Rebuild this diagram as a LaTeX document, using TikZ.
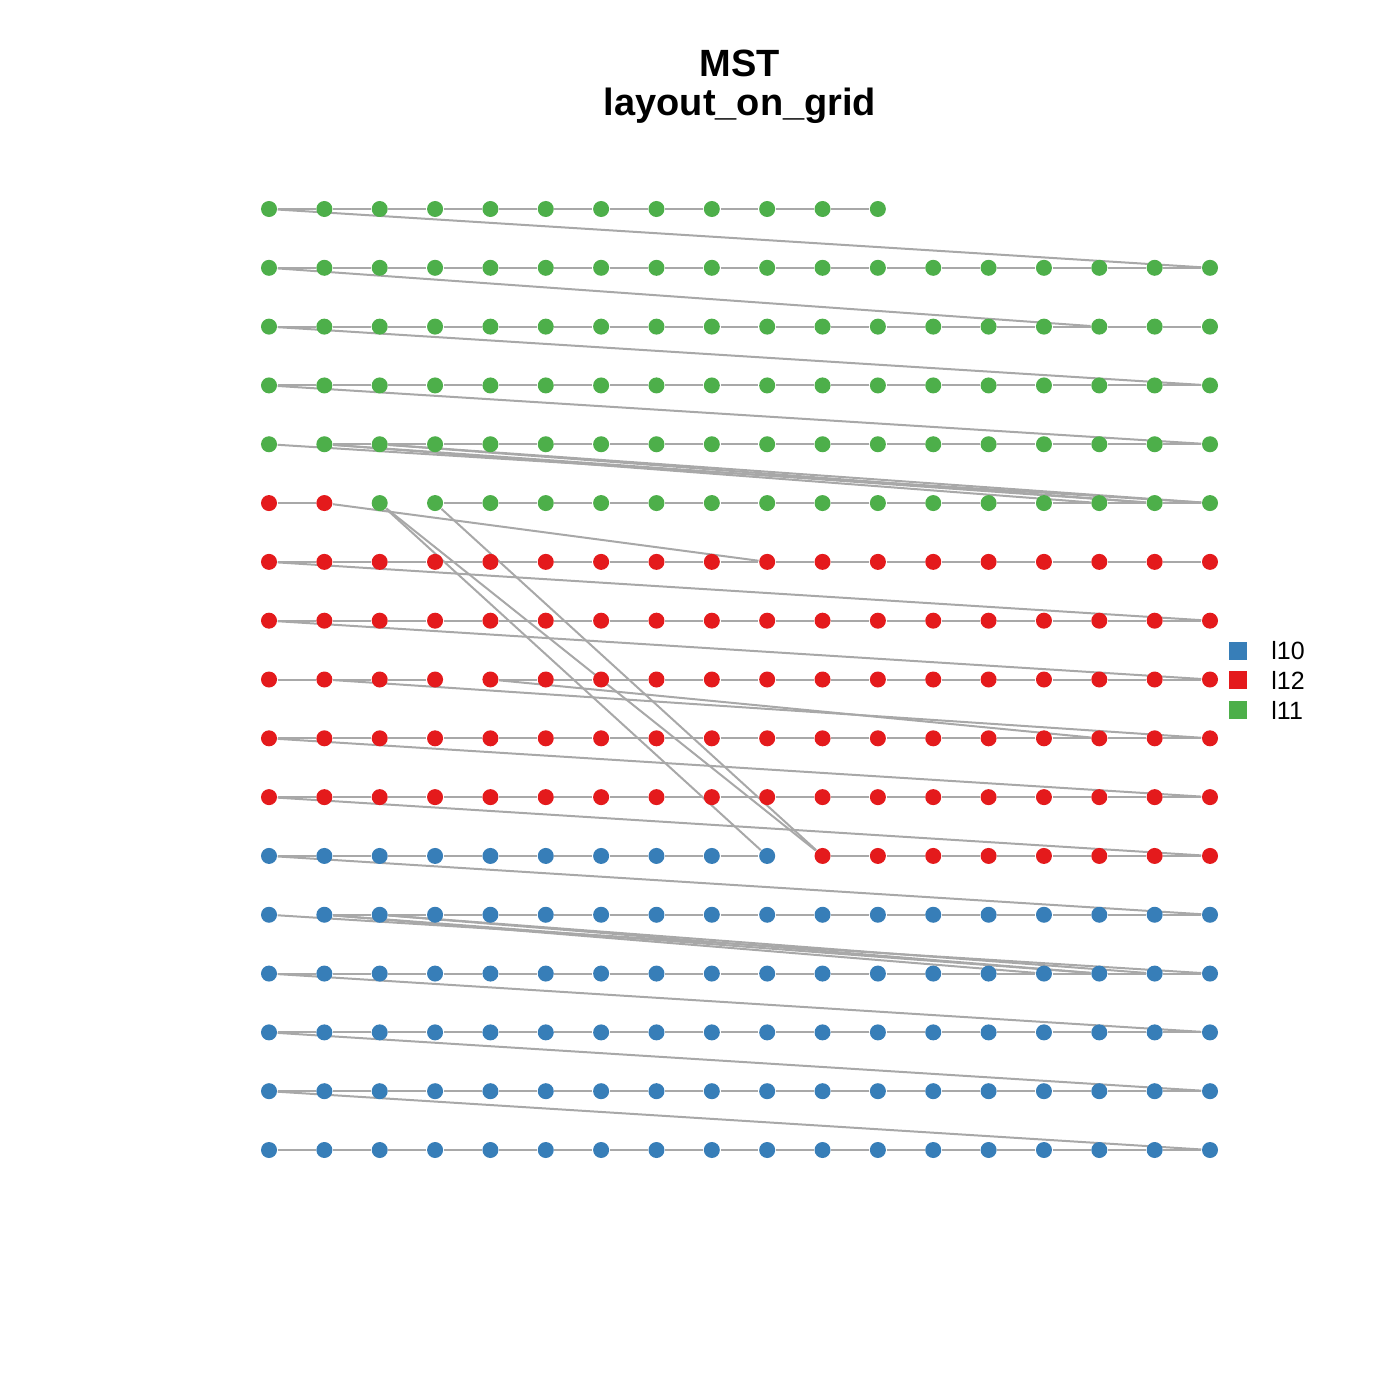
\documentclass[tikz,border=0pt]{standalone}
\usepackage{fontspec}
\setmainfont{Liberation Sans}
\usetikzlibrary{backgrounds, positioning}
\definecolor{lten}{RGB}{55, 126, 184}
\definecolor{ltwelve}{RGB}{228, 26, 28}
\definecolor{leleven}{RGB}{77, 175, 74}
\definecolor{edgegray}{RGB}{168, 168, 168}

\begin{document}
\begin{tikzpicture}[x=0.01cm, y=-0.01cm,
  vtx/.style={circle, inner sep=0pt, minimum size=0.16cm},
  link/.style={edgegray, line width=0.02cm},
  keybox/.style={rectangle, inner sep=0pt, minimum size=0.18cm},
  keytext/.style={inner sep=0pt, font=\fontsize{7.1}{9}\selectfont}]
  \useasboundingbox (0, 0) rectangle (1400, 1400);

  \node[anchor=base, font=\bfseries\fontsize{10.8}{13}\selectfont] (title) at (740, 77) {MST};
  \node[anchor=base, font=\bfseries\fontsize{10.8}{13}\selectfont] (subtitle) at (740, 116) {layout\_on\_grid};

  % vertices, row 0 is the top row
  \foreach \r/\a/\b in {0/0/11, 1/0/17, 2/0/17, 3/0/17, 4/0/17, 5/2/17} {
    \foreach \c in {\a,...,\b} {
      \node[vtx, fill=leleven] (v\r-\c) at (269 + 55.353*\c, 209 + 58.8125*\r) {};
    }
  }
  \foreach \r/\a/\b in {5/0/1, 6/0/17, 7/0/17, 8/0/17, 9/0/17, 10/0/17, 11/10/17} {
    \foreach \c in {\a,...,\b} {
      \node[vtx, fill=ltwelve] (v\r-\c) at (269 + 55.353*\c, 209 + 58.8125*\r) {};
    }
  }
  \foreach \r/\a/\b in {11/0/9, 12/0/17, 13/0/17, 14/0/17, 15/0/17, 16/0/17} {
    \foreach \c in {\a,...,\b} {
      \node[vtx, fill=lten] (v\r-\c) at (269 + 55.353*\c, 209 + 58.8125*\r) {};
    }
  }

  \begin{scope}[on background layer]
    % neighbours in a row
    \foreach \r/\a/\b in {0/0/10, 1/0/16, 2/0/16, 3/0/16, 4/1/16, 5/0/0, 5/3/16,
                          6/0/16, 7/0/16, 8/0/2, 8/4/16, 9/0/16, 10/0/16,
                          11/0/8, 11/10/16, 12/1/16, 13/0/16, 14/0/16, 15/0/16, 16/0/16} {
      \foreach \c [evaluate=\c as \d using int(\c+1)] in {\a,...,\b} {
        \draw[link] (v\r-\c) -- (v\r-\d);
      }
    }
    % edges between rows
    \foreach \r/\c/\s/\t in {0/0/1/17, 1/0/2/15, 2/0/3/17, 3/0/4/17,
                             4/0/5/17, 4/1/5/15, 4/1/5/16, 4/2/5/16, 4/2/5/17,
                             5/1/6/9, 5/2/11/9, 5/2/11/10, 5/3/11/10,
                             6/0/7/17, 7/0/8/17, 8/1/9/17, 8/4/9/15,
                             9/0/10/17, 10/0/11/17, 11/0/12/17,
                             12/0/13/17, 12/1/13/14, 12/1/13/15, 12/2/13/15, 12/2/13/16,
                             13/0/14/17, 14/0/15/17, 15/0/16/17} {
      \draw[link] (v\r-\c) -- (v\s-\t);
    }
  \end{scope}

  % legend
  \node[keybox, fill=lten] (key10) at (1238, 651) {};
  \node[keybox, fill=ltwelve] (key12) at (1238, 680) {};
  \node[keybox, fill=leleven] (key11) at (1238, 710) {};
  \node[keytext, right=0.23cm of key10] (lab10) {l10};
  \node[keytext, right=0.23cm of key12] (lab12) {l12};
  \node[keytext, right=0.23cm of key11] (lab11) {l11};
\end{tikzpicture}
\end{document}
